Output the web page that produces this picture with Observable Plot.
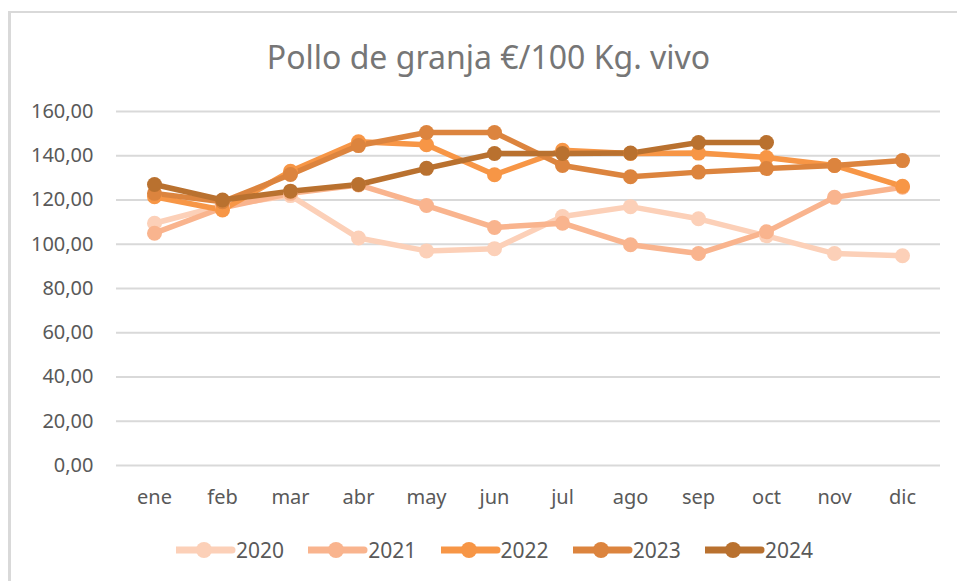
<!DOCTYPE html>
<html>
<head>
<meta charset="utf-8">
<script src="https://cdn.jsdelivr.net/npm/d3@7"></script>
<script src="https://cdn.jsdelivr.net/npm/@observablehq/plot@0.6"></script>
<style>
  html, body { margin: 0; padding: 0; background: #fff; }
  #wrap { position: relative; width: 957px; height: 581px; overflow: hidden; background: #fff; font-family: "Noto Sans", sans-serif; }
  #frame { position: absolute; left: 8px; top: 11px; width: 1000px; height: 1000px; border-left: 3px solid #d9d9d9; border-top: 2px solid #d9d9d9; box-sizing: border-box; }
  #title { position: absolute; left: 10px; width: 957px; top: 35px; text-align: center; font-size: 32px; line-height: 44px; color: #767676; }
  #chart { position: absolute; left: 0; top: 0; }
  .leg { position: absolute; top: 536px; height: 28px; display: flex; align-items: center; font-size: 21px; color: #595959; }
</style>
</head>
<body>
<div id="wrap">
  <div id="frame"></div>
  <div id="chart"></div>
  <div id="title">Pollo de granja €/100 Kg. vivo</div>
</div>
<script>
const months = ["ene","feb","mar","abr","may","jun","jul","ago","sep","oct","nov","dic"];
const years = ["2020","2021","2022","2023","2024"];
const colors = ["#FCD0B8","#F9B48E","#F79646","#DC843E","#B9712F"];
const yTicks = [0,20,40,60,80,100,120,140,160];

const v2020 = [109.5,117.5,122.0,102.8,97.0,98.0,112.5,117.0,111.5,103.8,95.8,94.8];
const v2021 = [105.0,116.5,123.0,126.8,117.5,107.6,109.5,99.8,95.8,105.6,121.2,125.8];
const v2022 = [121.5,115.5,133.0,146.3,145.0,131.4,142.5,141.0,141.2,139.2,135.6,126.2];
const v2023 = [123.0,119.2,131.5,144.6,150.5,150.5,135.6,130.5,132.6,134.2,135.6,137.8];
const v2024 = [127.0,120.0,124.0,127.0,134.3,141.0,141.0,141.2,146.0,146.0,null,null];

const series = [v2020, v2021, v2022, v2023, v2024];
const rows = [];
series.forEach((vals, i) => vals.forEach((v, j) => {
  if (v != null) rows.push({year: years[i], month: months[j], value: v});
}));

const fmt = d => d.toFixed(2).replace(".", ",");

const chart = Plot.plot({
  width: 957,
  height: 581,
  marginTop: 111,
  marginBottom: 116,
  marginLeft: 116,
  marginRight: 17,
  style: { fontFamily: "Noto Sans", fontSize: "20px", color: "#595959", background: "transparent" },
  x: { type: "point", domain: months, padding: 0.5, label: null },
  y: { domain: [0, 160], label: null },
  color: { domain: years, range: colors },
  marks: [
    Plot.ruleY(yTicks, { stroke: "#d9d9d9", strokeWidth: 2 }),
    Plot.axisY({ ticks: yTicks, tickFormat: fmt, tickSize: 0, tickPadding: 23, fill: "#595959", label: null }),
    Plot.axisX({ tickSize: 0, tickPadding: 24, fill: "#595959", label: null }),
    Plot.line(rows, { x: "month", y: "value", z: "year", stroke: "year", strokeWidth: 5.5, strokeLinejoin: "round", strokeLinecap: "round" }),
    Plot.dot(rows, { x: "month", y: "value", fill: "year", r: 7.5 })
  ]
});
document.getElementById("chart").appendChild(chart);

// legend
const wrap = document.getElementById("wrap");
const legStart = 176, legStep = 132.25;
years.forEach((y, i) => {
  const d = document.createElement("div");
  d.className = "leg";
  d.style.left = (legStart + i * legStep) + "px";
  d.innerHTML = `<svg width="60" height="28" style="display:block"><line x1="1" y1="14" x2="56" y2="14" stroke="${colors[i]}" stroke-width="7" stroke-linecap="round"/><circle cx="28" cy="14" r="8" fill="${colors[i]}"/></svg><span>${y}</span>`;
  wrap.appendChild(d);
});
</script>
</body>
</html>
